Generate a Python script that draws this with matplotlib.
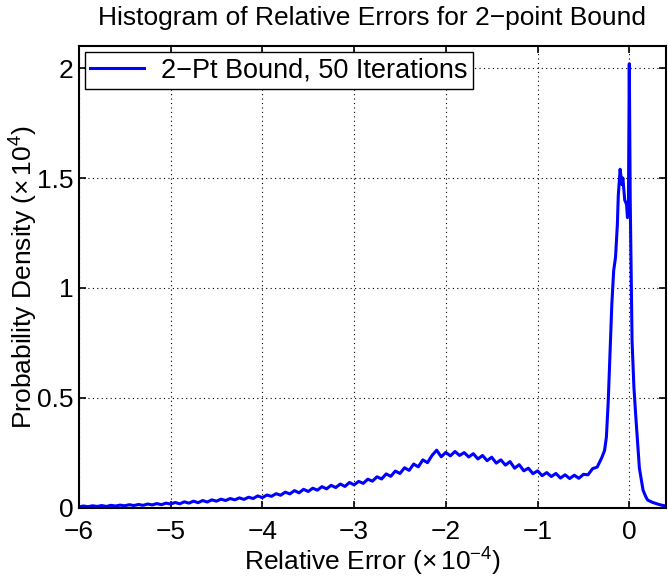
import numpy as np
import matplotlib
matplotlib.use('Agg')
import matplotlib.pyplot as plt

plt.rcParams['font.family'] = ['Liberation Sans', 'DejaVu Sans']
plt.rcParams['mathtext.fontset'] = 'custom'
plt.rcParams['mathtext.rm'] = 'Liberation Sans'
plt.rcParams['mathtext.it'] = 'Liberation Sans'

# Relative error (x 1e-4) and probability density (x 1e4)
err = [-6.00, -5.95, -5.90, -5.85, -5.80, -5.75, -5.70, -5.65, -5.60, -5.55,
       -5.50, -5.45, -5.40, -5.35, -5.30, -5.25, -5.20, -5.15, -5.10, -5.05,
       -5.00, -4.95, -4.90, -4.85, -4.80, -4.75, -4.70, -4.65, -4.60, -4.55,
       -4.50, -4.45, -4.40, -4.35, -4.30, -4.25, -4.20, -4.15, -4.10, -4.05,
       -4.00, -3.95, -3.90, -3.85, -3.80, -3.75, -3.70, -3.65, -3.60, -3.55,
       -3.50, -3.45, -3.40, -3.35, -3.30, -3.25, -3.20, -3.15, -3.10, -3.05,
       -3.00, -2.95, -2.90, -2.85, -2.80, -2.75, -2.70, -2.65, -2.60, -2.55,
       -2.50, -2.45, -2.40, -2.35, -2.30, -2.25, -2.20, -2.15, -2.10, -2.05,
       -2.00, -1.95, -1.90, -1.85, -1.80, -1.75, -1.70, -1.65, -1.60, -1.55,
       -1.50, -1.45, -1.40, -1.35, -1.30, -1.25, -1.20, -1.15, -1.10, -1.05,
       -1.00, -0.95, -0.90, -0.85, -0.80, -0.75, -0.70, -0.65, -0.60, -0.55,
       -0.50, -0.45, -0.40, -0.35, -0.30, -0.27, -0.25, -0.23, -0.21, -0.19,
       -0.17, -0.15, -0.13, -0.12, -0.10, -0.08, -0.07, -0.05, -0.03, -0.02,
       -0.01, 0.00, 0.01, 0.03, 0.05, 0.07, 0.09, 0.11, 0.13, 0.15,
       0.18, 0.20, 0.25, 0.30, 0.35, 0.40]
dens = [0.004, 0.008, 0.005, 0.009, 0.006, 0.010, 0.006, 0.011, 0.008, 0.012,
        0.009, 0.014, 0.010, 0.015, 0.011, 0.017, 0.013, 0.019, 0.014, 0.021,
        0.017, 0.024, 0.018, 0.027, 0.021, 0.030, 0.023, 0.033, 0.026, 0.036,
        0.030, 0.039, 0.033, 0.042, 0.036, 0.045, 0.038, 0.048, 0.042, 0.054,
        0.046, 0.058, 0.052, 0.064, 0.057, 0.071, 0.063, 0.078, 0.068, 0.084,
        0.074, 0.089, 0.080, 0.096, 0.086, 0.102, 0.092, 0.108, 0.097, 0.115,
        0.104, 0.120, 0.111, 0.130, 0.121, 0.141, 0.131, 0.154, 0.143, 0.167,
        0.156, 0.182, 0.170, 0.199, 0.186, 0.218, 0.205, 0.238, 0.262, 0.232,
        0.252, 0.236, 0.256, 0.238, 0.251, 0.231, 0.246, 0.222, 0.238, 0.214,
        0.230, 0.203, 0.218, 0.194, 0.210, 0.180, 0.196, 0.168, 0.180, 0.155,
        0.168, 0.146, 0.160, 0.142, 0.156, 0.135, 0.150, 0.133, 0.148, 0.134,
        0.152, 0.150, 0.178, 0.185, 0.228, 0.260, 0.320, 0.480, 0.700, 0.930,
        1.080, 1.140, 1.290, 1.420, 1.540, 1.470, 1.500, 1.400, 1.380, 1.320,
        1.340, 2.020, 1.400, 0.760, 0.550, 0.420, 0.300, 0.180, 0.130, 0.080,
        0.050, 0.035, 0.025, 0.018, 0.012, 0.008]

xticks = [-6, -5, -4, -3, -2, -1, 0]
yticks = [0, 0.5, 1, 1.5, 2]

fs = 19

fig = plt.figure(figsize=(6.68, 5.77), dpi=100)
ax = fig.add_axes([0.118, 0.12, 0.879, 0.80])

ax.plot(err, dens, color='#0000ff', linewidth=2.2, label='2\u2212Pt Bound, 50 Iterations')

ax.set_xlim(-6, 0.4)
ax.set_ylim(0, 2.1)
ax.set_xticks(xticks)
ax.set_xticklabels([str(t).replace('-', '\u2212') for t in xticks])
ax.set_yticks(yticks)
ax.set_yticklabels(['0', '0.5', '1', '1.5', '2'])
ax.tick_params(direction='in', top=True, right=True, length=5, width=1.2,
               labelsize=fs)
ax.tick_params(axis='x', pad=9)
ax.tick_params(axis='y', pad=4)
for s in ax.spines.values():
    s.set_linewidth(1.5)
ax.grid(True, linestyle=(0, (1, 3)), color='black', linewidth=0.8)

ax.set_xlabel(r'Relative Error ($\times\,10^{-4}$)', fontsize=fs, labelpad=1)
ax.set_ylabel(r'Probability Density ($\times\,10^{4}$)', fontsize=fs, labelpad=-2)
ax.set_title('Histogram of Relative Errors for 2\u2212point Bound', fontsize=fs, pad=15)

leg = ax.legend(loc='upper left', fontsize=fs + 0.5, fancybox=False, framealpha=1,
                edgecolor='black', borderaxespad=0.22, handlelength=2.0,
                borderpad=0.2, handletextpad=0.6)
leg.get_frame().set_linewidth(1.0)

fig.savefig('out.png', dpi=100)
